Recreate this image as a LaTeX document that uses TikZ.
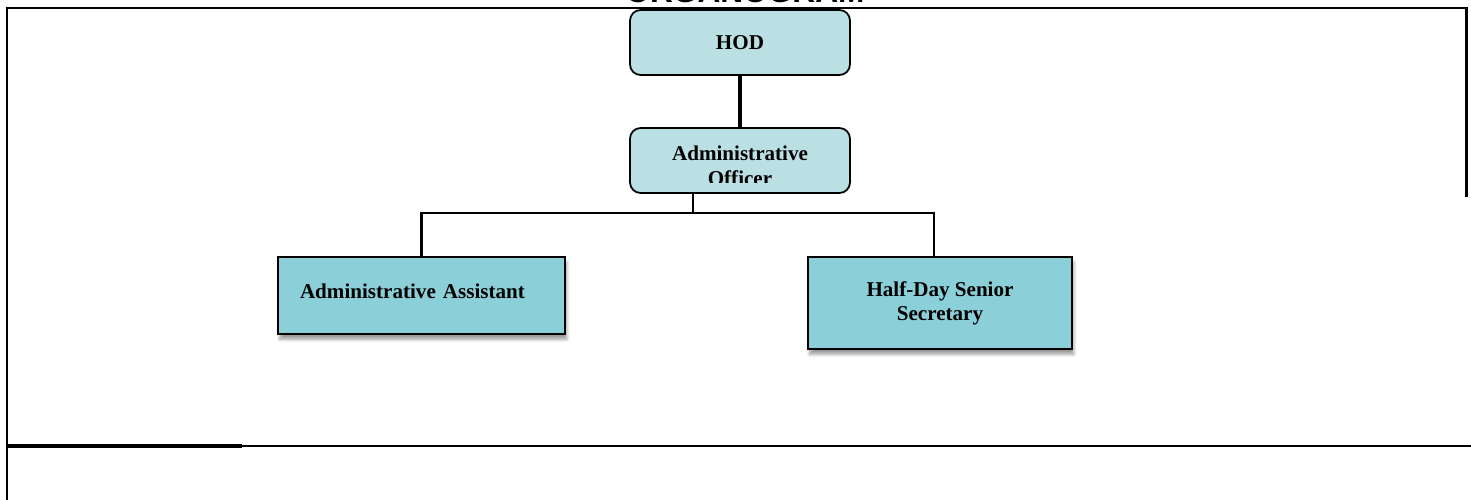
\documentclass[tikz,border=0pt]{standalone}
\usepackage{fontspec}
\setmainfont{Liberation Serif}
\newfontfamily\titlefont{Liberation Sans}
\usetikzlibrary{shadows.blur}
\definecolor{headfill}{HTML}{BBE0E3}
\definecolor{stafffill}{HTML}{8BD0D8}
\begin{document}
\begin{tikzpicture}[x=0.02cm,y=-0.02cm,font=\fontsize{12}{13.6}\selectfont\bfseries,
    headbox/.style={draw,line width=1pt,rounded corners=6pt,fill=headfill,
                    minimum width=4.4cm,minimum height=1.3cm,inner sep=0pt},
    staffbox/.style={draw,line width=1.3pt,fill=stafffill,align=center,inner sep=0pt,
                     blur shadow={shadow xshift=1pt,shadow yshift=-3pt,shadow opacity=40,shadow blur steps=6}},
    link/.style={line width=1.4pt}]
                    \useasboundingbox (0,0) rectangle (1471,500);
                    % page frame
                    \draw[line width=1.7pt] (7,500) -- (7,8) -- (1466,8) -- (1466,197);
                    \draw[line width=2.2pt] (7,446) -- (242,446);
                    \draw[line width=1.7pt] (242,446) -- (1471,446);
                    \node[anchor=base,font=\titlefont\fontsize{18}{20}\selectfont\bfseries] (title) at (745,3) {ORGANOGRAM};

                    \node[headbox] (hod) at (740,42.5) {HOD};
                    \node[headbox] (ao) at (740,160.5) {};
                    \begin{scope}
                    \clip (632,131) rectangle (848,182);
                    \node[align=center,font=\fontsize{12}{14.2}\selectfont\bfseries] (aotext) at (740,166) {Administrative\\Officer};
                    \end{scope}
                    \node[staffbox,minimum width=5.74cm,minimum height=1.54cm,text width=4.86cm,align=left,text depth=4.5pt] (aa) at (421.5,295.5) {Administrative Assistant};
                    \node[staffbox,minimum width=5.28cm,minimum height=1.84cm] (hs) at (940,303) {Half-Day Senior\\Secretary};

                    \coordinate (split) at (693,213);
                    \draw[line width=2.8pt] (hod) -- (ao);
                    \draw[link] (ao.south -| split) -- (split);
                    \draw[link] (aa.north) |- (split) -| (hs.north -| 934,0);
                \end{tikzpicture}
\end{document}
